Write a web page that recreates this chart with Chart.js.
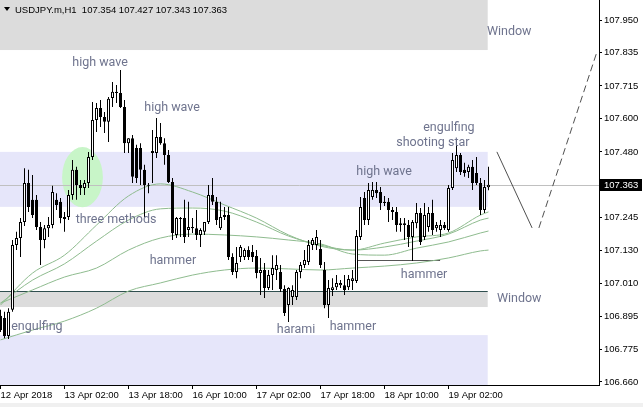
<!DOCTYPE html>
<html>
<head>
<meta charset="utf-8">
<title>USDJPY.m H1</title>
<script src="https://cdn.jsdelivr.net/npm/chart.js@4"></script>
<style>
  html, body { margin: 0; padding: 0; background: #fff; }
</style>
</head>
<body>
<canvas id="chart" width="643" height="407"></canvas>
<script>
// --- candles (H1) ---
const opens = [106.896,106.888,106.824,106.917,107.148,107.173,107.230,107.369,107.309,107.309,
  107.212,107.166,107.208,107.219,107.309,107.302,107.248,107.248,107.326,107.416,
  107.362,107.351,107.369,107.462,107.594,107.636,107.604,107.587,107.672,107.694,
  107.690,107.640,107.511,107.529,107.494,107.494,107.416,107.362,107.476,107.476,
  107.533,107.511,107.469,107.373,107.184,107.241,107.244,107.202,107.208,107.208,
  107.184,107.195,107.230,107.326,107.302,107.208,107.248,107.255,107.105,107.052,
  107.105,107.105,107.130,107.123,107.109,107.048,107.059,106.995,107.041,107.059,
  107.052,106.991,106.934,106.963,106.963,107.052,107.077,107.088,107.148,107.148,
  107.134,107.059,106.934,106.988,106.998,107.005,107.005,106.998,107.020,107.020,
  107.177,107.316,107.237,107.319,107.344,107.337,107.302,107.302,107.266,107.266,
  107.219,107.219,107.219,107.177,107.226,107.262,107.177,107.212,107.262,107.208,
  107.202,107.219,107.202,107.351,107.422,107.469,107.416,107.408,107.427,107.405,
  107.369,107.273,107.354];
const highs = [106.917,106.910,106.923,107.166,107.195,107.244,107.422,107.416,107.398,107.326,
  107.230,107.219,107.248,107.359,107.333,107.316,107.266,107.344,107.451,107.427,
  107.380,107.380,107.480,107.658,107.654,107.665,107.622,107.676,107.729,107.718,
  107.772,107.665,107.529,107.540,107.505,107.511,107.434,107.369,107.558,107.601,
  107.583,107.529,107.487,107.387,107.248,107.248,107.309,107.302,107.244,107.273,
  107.208,107.230,107.362,107.387,107.319,107.302,107.284,107.284,107.119,107.141,
  107.148,107.137,107.144,107.148,107.130,107.102,107.084,107.059,107.112,107.112,
  107.077,107.005,106.998,107.005,107.059,107.088,107.130,107.166,107.173,107.202,
  107.166,107.088,107.023,107.030,107.041,107.023,107.041,107.041,107.059,107.202,
  107.319,107.337,107.369,107.373,107.373,107.355,107.323,107.316,107.284,107.284,
  107.244,107.244,107.237,107.237,107.298,107.280,107.298,107.284,107.309,107.230,
  107.237,107.230,107.362,107.476,107.522,107.476,107.441,107.434,107.451,107.462,
  107.387,107.380,107.427];
const lows = [106.838,106.816,106.813,106.910,107.130,107.105,107.216,107.266,107.244,107.202,
  107.077,107.137,107.177,107.208,107.273,107.226,107.195,107.237,107.309,107.309,
  107.326,107.326,107.351,107.451,107.551,107.569,107.547,107.515,107.640,107.654,
  107.636,107.476,107.476,107.369,107.369,107.362,107.248,107.333,107.369,107.458,
  107.505,107.434,107.369,107.166,107.173,107.177,107.155,107.177,107.191,107.166,
  107.141,107.184,107.223,107.291,107.219,107.202,107.237,107.095,107.041,107.030,
  107.088,107.095,107.095,107.088,107.030,106.970,106.959,106.988,106.988,107.023,
  106.981,106.895,106.874,106.934,106.952,107.030,107.066,107.077,107.130,107.130,
  107.066,106.923,106.888,106.966,106.988,106.995,106.970,106.988,106.988,107.013,
  107.166,107.219,107.219,107.309,107.316,107.273,107.287,107.230,107.237,107.195,
  107.195,107.166,107.141,107.091,107.208,107.148,107.166,107.195,107.184,107.195,
  107.177,107.202,107.195,107.344,107.408,107.398,107.391,107.387,107.344,107.362,
  107.255,107.262,107.343];
const closes = [106.845,106.824,106.910,107.148,107.173,107.230,107.369,107.284,107.255,107.212,
  107.166,107.208,107.219,107.337,107.291,107.244,107.241,107.326,107.416,107.362,
  107.351,107.369,107.462,107.594,107.636,107.604,107.587,107.669,107.694,107.690,
  107.640,107.511,107.529,107.391,107.387,107.416,107.362,107.359,107.483,107.533,
  107.511,107.469,107.373,107.191,107.244,107.244,107.177,107.212,107.212,107.184,
  107.202,107.230,107.326,107.302,107.237,107.248,107.255,107.105,107.052,107.084,
  107.141,107.130,107.105,107.105,107.048,107.059,106.995,107.041,107.066,107.077,
  106.991,106.906,106.995,106.988,107.052,107.077,107.095,107.148,107.166,107.177,
  107.077,106.934,106.995,106.998,107.013,107.013,106.988,107.027,107.030,107.180,
  107.284,107.237,107.344,107.344,107.333,107.298,107.298,107.273,107.273,107.219,
  107.226,107.226,107.177,107.230,107.262,107.159,107.255,107.262,107.202,107.219,
  107.219,107.208,107.351,107.451,107.469,107.408,107.405,107.427,107.369,107.369,
  107.273,107.355,107.363];

// --- moving averages, read at every 8th bar ---
const maIndex = [0, 8, 16, 24, 32, 40, 48, 56, 64, 72, 80, 88, 96, 104, 112, 120, 122];
const maFast = [106.934,107.048,107.112,107.219,107.323,107.366,107.337,107.291,107.244,107.184,107.144,107.130,107.155,107.177,107.191,107.255,107.266];
const maMid  = [106.941,107.023,107.081,107.162,107.237,107.277,107.280,107.269,107.230,107.180,107.148,107.130,107.141,107.162,107.187,107.237,107.244];
const maSlow = [106.941,106.988,107.034,107.066,107.130,107.173,107.187,107.184,107.177,107.166,107.152,107.116,107.112,107.137,107.159,107.191,107.198];
const maLong = [106.810,106.845,106.877,106.923,106.984,107.013,107.041,107.059,107.066,107.063,107.059,107.066,107.073,107.084,107.102,107.127,107.130];

// --- axes ---
const timeTicks = [0, 16, 32, 48, 64, 80, 96, 112];
const timeLabels = ['12 Apr 2018', '13 Apr 02:00', '13 Apr 18:00', '16 Apr 10:00',
  '17 Apr 02:00', '17 Apr 18:00', '18 Apr 10:00', '19 Apr 02:00'];
const priceTicks = [107.950, 107.835, 107.715, 107.600, 107.480, 107.245, 107.130, 107.010, 106.895, 106.775, 106.660];
const lastPrice = 107.363;
const header = 'USDJPY.m,H1  107.354 107.427 107.343 107.363';

// --- objects drawn on the chart (bar index / price) ---
const zoneEnd = 121.8;
const grayZones = [[108.100, 107.843], [106.984, 106.927]];
const blueZones = [[107.480, 107.284], [106.827, 106.500]];
const windowLine = 106.984;
const hammerLine = [88.6, 109.9, 107.095];
const ellipse = [20.5, 107.390, 5.1, 0.107];
const zigSolid = [[124.1, 107.480], [132.9, 107.209]];
const zigDashed = [[134.6, 107.209], [149.1, 107.836]];
const noteTexts = ['high wave', 'high wave', 'three methods', 'hammer', 'harami', 'hammer', 'hammer',
  'high wave', 'engulfing', 'shooting star', 'engulfing'];
const noteIndex = [24.9, 42.9, 28.9, 43.1, 73.9, 88.1, 105.9, 95.9, 112.1, 108.1, 9.1];
const notePrice = [107.804, 107.644, 107.244, 107.098, 106.852, 106.863, 107.048, 107.416, 107.572, 107.519, 106.863];
const windowTexts = [[121.6, 107.914], [124.1, 106.963]];

const bodies = opens.map((o, i) => ({ x: i, y: [o, closes[i]] }));
const wicks = opens.map((o, i) => ({ x: i, y: [lows[i], highs[i]] }));
const bodyFill = opens.map((o, i) => closes[i] > o ? '#ffffff' : '#000000');

function maLine(values) {
  return {
    type: 'line',
    data: maIndex.map((x, k) => ({ x: x, y: values[k] })),
    borderColor: '#8fbc8f',
    borderWidth: 1,
    pointRadius: 0,
    cubicInterpolationMode: 'monotone',
    order: 2
  };
}

const decor = {
  id: 'decor',
  beforeDraw(chart) {
    const { ctx, chartArea: a, scales: { x, y } } = chart;
    ctx.save();
    ctx.fillStyle = '#ffffff';
    ctx.fillRect(0, 0, chart.width, chart.height);
    ctx.fillStyle = '#f0f0f0';
    ctx.fillRect(0, 403, chart.width, 4);

    ctx.beginPath();
    ctx.rect(a.left, a.top, a.width, a.height);
    ctx.clip();
    const x0 = a.left, x1 = x.getPixelForValue(zoneEnd);
    ctx.fillStyle = '#dcdcdc';
    grayZones.forEach(z => {
      const t = y.getPixelForValue(z[0]), b = y.getPixelForValue(z[1]);
      ctx.fillRect(x0, t, x1 - x0, b - t);
    });
    ctx.fillStyle = '#e6e6fa';
    blueZones.forEach(z => {
      const t = y.getPixelForValue(z[0]), b = y.getPixelForValue(z[1]);
      ctx.fillRect(x0, t, x1 - x0, b - t);
    });

    // highlight round the three methods
    const ex = x.getPixelForValue(ellipse[0]), ey = y.getPixelForValue(ellipse[1]);
    const rx = x.getPixelForValue(ellipse[0] + ellipse[2]) - ex;
    const ry = ey - y.getPixelForValue(ellipse[1] + ellipse[3]);
    ctx.fillStyle = '#c8f5c8';
    ctx.beginPath();
    ctx.ellipse(ex, ey, rx, ry, 0, 0, Math.PI * 2);
    ctx.fill();

    ctx.lineWidth = 1;
    // current price line
    let py = Math.round(y.getPixelForValue(lastPrice)) + 0.5;
    ctx.strokeStyle = '#c0c0c0';
    ctx.beginPath(); ctx.moveTo(a.left, py); ctx.lineTo(a.right, py); ctx.stroke();
    // window edge
    py = Math.round(y.getPixelForValue(windowLine)) + 0.5;
    ctx.strokeStyle = '#2f4f4f';
    ctx.beginPath(); ctx.moveTo(x0, py); ctx.lineTo(x1, py); ctx.stroke();
    // hammer level
    py = Math.round(y.getPixelForValue(hammerLine[2])) + 0.5;
    ctx.strokeStyle = '#555555';
    ctx.beginPath();
    ctx.moveTo(x.getPixelForValue(hammerLine[0]), py);
    ctx.lineTo(x.getPixelForValue(hammerLine[1]), py);
    ctx.stroke();
    // projection
    ctx.strokeStyle = '#505050';
    ctx.beginPath();
    ctx.moveTo(x.getPixelForValue(zigSolid[0][0]), y.getPixelForValue(zigSolid[0][1]));
    ctx.lineTo(x.getPixelForValue(zigSolid[1][0]), y.getPixelForValue(zigSolid[1][1]));
    ctx.stroke();
    ctx.setLineDash([7, 4]);
    ctx.beginPath();
    ctx.moveTo(x.getPixelForValue(zigDashed[0][0]), y.getPixelForValue(zigDashed[0][1]));
    ctx.lineTo(x.getPixelForValue(zigDashed[1][0]), y.getPixelForValue(zigDashed[1][1]));
    ctx.stroke();
    ctx.restore();
  },
  afterDatasetsDraw(chart) {
    const { ctx, scales: { x, y } } = chart;
    ctx.save();
    ctx.font = '12.5px Roboto';
    ctx.fillStyle = '#6f748e';
    ctx.textBaseline = 'middle';
    ctx.textAlign = 'center';
    // +2: Roboto's middle sits a little high for lower-case words
    noteTexts.forEach((t, k) => {
      ctx.fillText(t, x.getPixelForValue(noteIndex[k]), y.getPixelForValue(notePrice[k]) + 2);
    });
    ctx.textAlign = 'left';
    windowTexts.forEach(w => {
      ctx.fillText('Window', x.getPixelForValue(w[0]), y.getPixelForValue(w[1]) + 2);
    });
    ctx.restore();
  },
  afterDraw(chart) {
    const { ctx, chartArea: a, scales: { y } } = chart;
    ctx.save();
    // header
    ctx.fillStyle = '#000';
    ctx.beginPath();
    ctx.moveTo(4, 7); ctx.lineTo(10, 7); ctx.lineTo(7, 11); ctx.closePath();
    ctx.fill();
    ctx.font = '9.5px "Liberation Sans"';
    ctx.textBaseline = 'middle';
    ctx.fillText(header, 15, 10);
    // last price tag
    const py = Math.round(y.getPixelForValue(lastPrice));
    ctx.fillRect(a.right + 1, py - 6, 42, 12);
    ctx.fillStyle = '#fff';
    ctx.fillText(lastPrice.toFixed(3), a.right + 5, py + 0.5);
    ctx.restore();
  }
};

Chart.defaults.font.family = '"Liberation Sans", Arial, sans-serif';
Chart.defaults.font.size = 9.5;
Chart.defaults.color = '#000';

new Chart(document.getElementById('chart'), {
  type: 'bar',
  data: {
    datasets: [
      {
        label: 'body',
        data: bodies,
        backgroundColor: bodyFill,
        borderColor: '#000',
        borderWidth: 1,
        borderSkipped: false,
        barThickness: 3,
        maxBarThickness: 3,
        minBarLength: 1,
        inflateAmount: 0,
        grouped: false,
        order: 0
      },
      {
        label: 'wick',
        data: wicks,
        backgroundColor: '#000',
        borderWidth: 0,
        barThickness: 1,
        maxBarThickness: 1,
        inflateAmount: 0,
        grouped: false,
        order: 1
      },
      maLine(maFast),
      maLine(maMid),
      maLine(maSlow),
      maLine(maLong)
    ]
  },
  options: {
    responsive: false,
    animation: false,
    layout: { padding: 0 },
    plugins: {
      legend: { display: false },
      tooltip: { enabled: false }
    },
    scales: {
      x: {
        type: 'linear',
        min: -0.125,
        max: 149.625,
        offset: false,
        grid: { offset: false, drawOnChartArea: false, color: '#000', tickLength: 4 },
        border: { color: '#000' },
        ticks: {
          align: 'start',
          padding: 1,
          maxRotation: 0,
          autoSkip: false,
          callback: v => timeLabels[timeTicks.indexOf(v)]
        },
        afterBuildTicks: s => { s.ticks = timeTicks.map(v => ({ value: v })); },
        afterFit: s => { s.height = 22; s.paddingLeft = 0; s.paddingRight = 0; }
      },
      y: {
        position: 'right',
        min: 106.6492,
        max: 108.0213,
        grid: { drawOnChartArea: false, color: '#000', tickLength: 3 },
        border: { color: '#000' },
        ticks: {
          padding: 2,
          autoSkip: false,
          callback: v => v.toFixed(3)
        },
        afterBuildTicks: s => { s.ticks = priceTicks.map(v => ({ value: v })); },
        afterFit: s => { s.width = 44; s.paddingTop = 0; s.paddingBottom = 0; }
      }
    }
  },
  plugins: [decor]
});
</script>
</body>
</html>
